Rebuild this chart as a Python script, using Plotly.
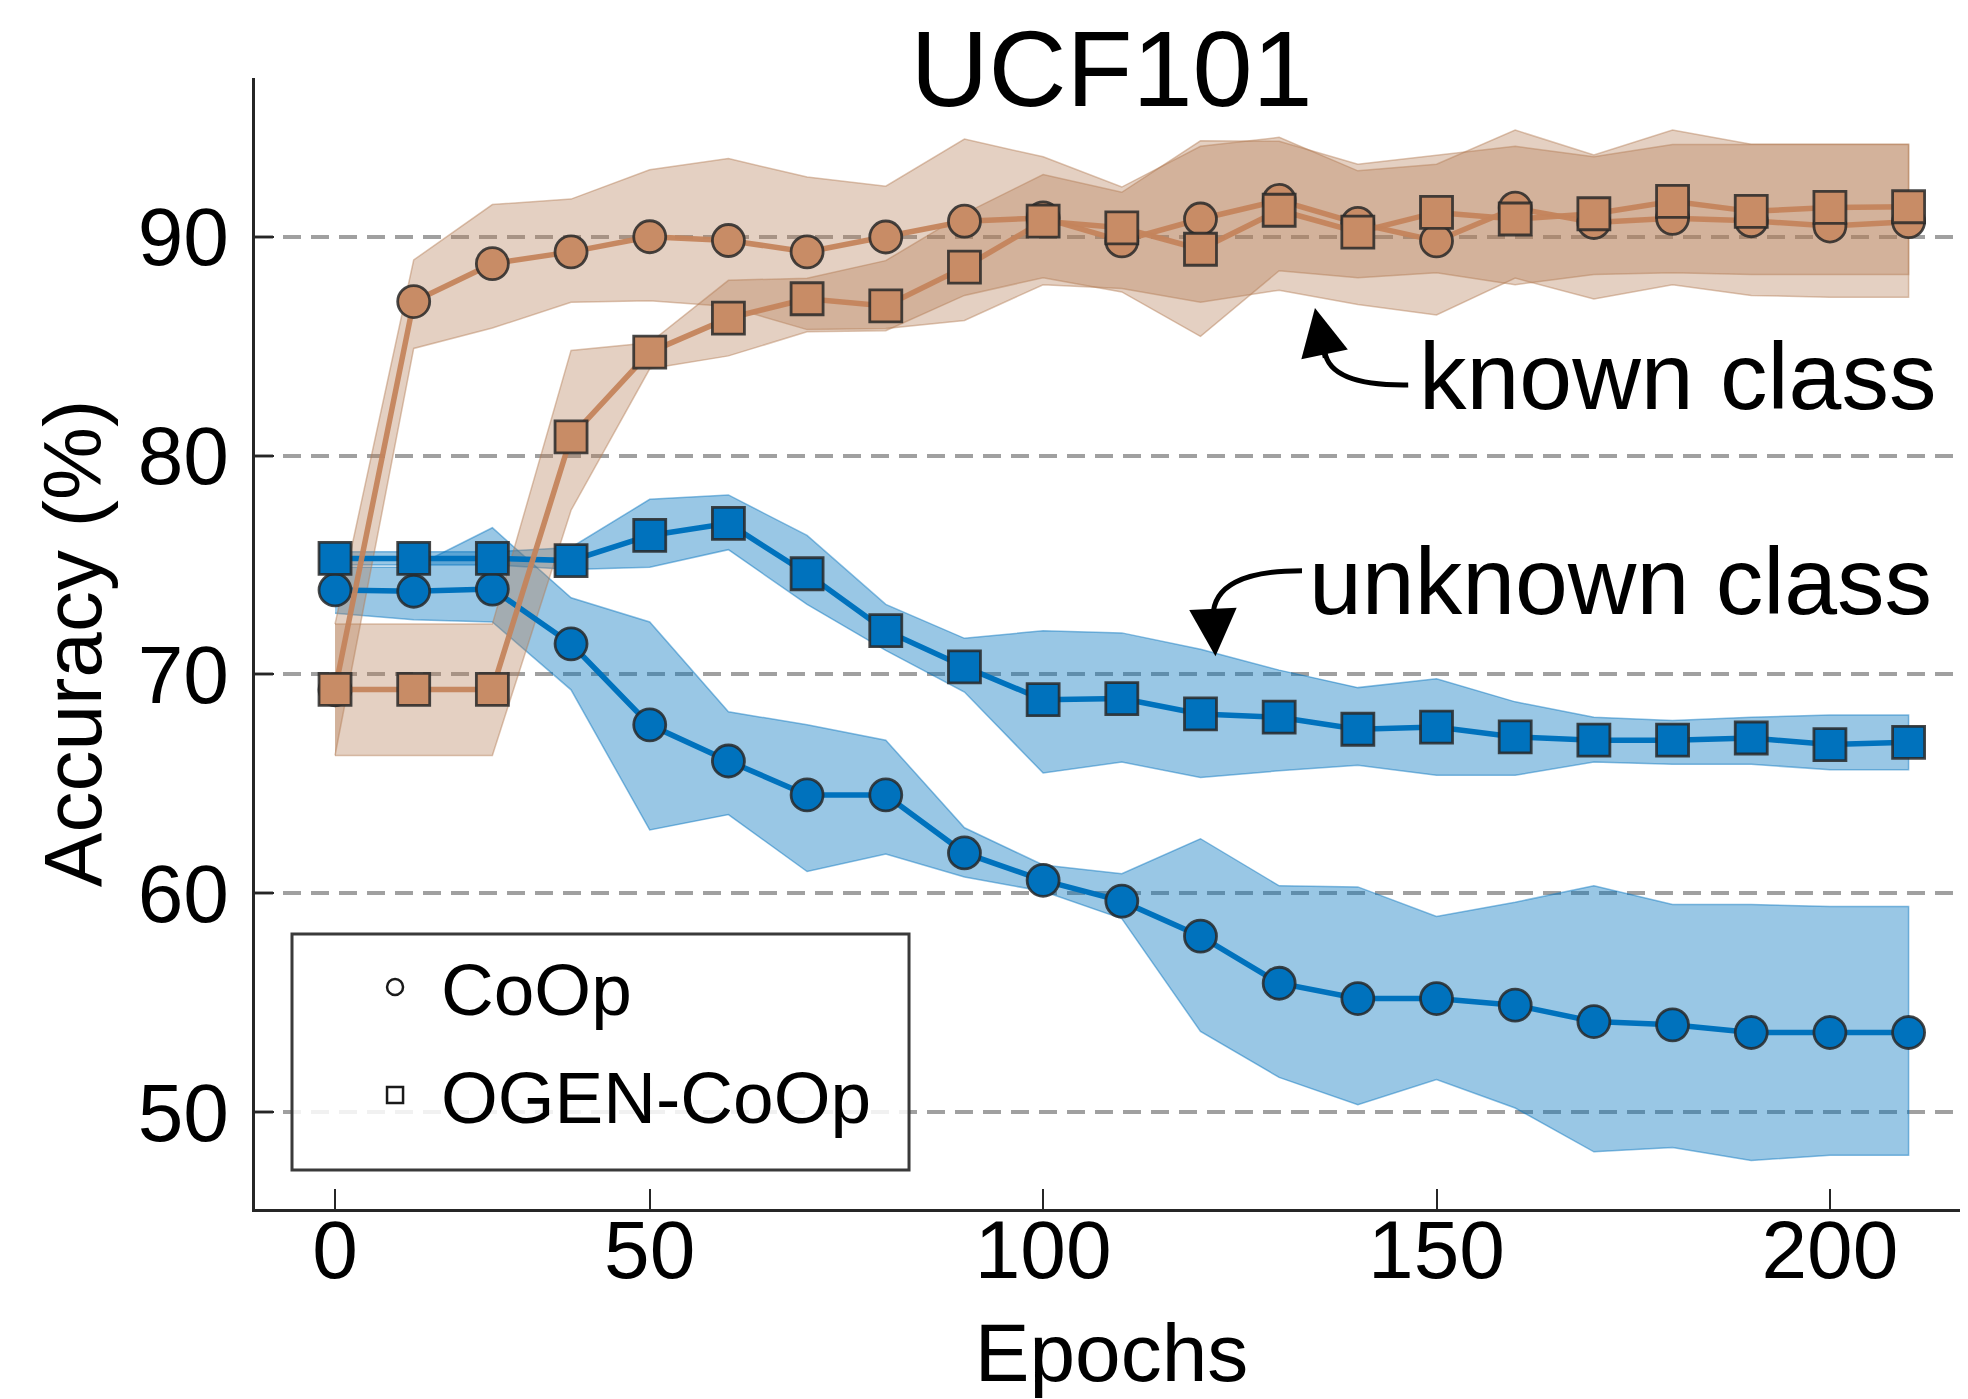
import plotly.graph_objects as go

# ---------------- data ----------------
epochs = [0, 12.5, 25, 37.5, 50, 60, 70, 80, 90, 100, 110, 120, 130, 140, 150, 160, 170, 180, 190, 200, 210]
tick_epochs = [0, 50, 100, 150, 200]

coop_unknown = [73.86, 73.8, 73.9, 71.4, 67.7, 66.05, 64.5, 64.5, 61.85, 60.6, 59.65, 58.05, 55.9, 55.2, 55.2,
                54.9, 54.15, 54.0, 53.65, 53.65, 53.65]
coop_unknown_hi = [74.9, 74.9, 76.7, 73.5, 72.4, 68.3, 67.7, 67.0, 63.0, 61.3, 60.9, 62.5, 60.35, 60.3, 58.95,
                   59.6, 60.35, 59.5, 59.5, 59.4, 59.4]
coop_unknown_lo = [72.8, 72.5, 72.4, 69.3, 62.9, 63.6, 61.0, 61.8, 60.75, 60.1, 58.85, 53.7, 51.6, 50.35, 51.5,
                   50.2, 48.2, 48.4, 47.8, 48.05, 48.05]

ogen_unknown = [75.3, 75.3, 75.3, 75.2, 76.35, 76.9, 74.6, 72.0, 70.35, 68.85, 68.9, 68.2, 68.05, 67.5, 67.6,
                67.15, 67.0, 67.0, 67.1, 66.8, 66.9]
ogen_unknown_hi = [75.6, 75.6, 75.6, 75.8, 78.0, 78.2, 76.35, 73.2, 71.65, 72.0, 71.9, 71.15, 70.2, 69.4, 69.8,
                   68.75, 68.05, 67.9, 68.05, 68.15, 68.15]
ogen_unknown_lo = [75.0, 75.0, 75.0, 74.8, 74.9, 75.7, 73.2, 71.1, 69.2, 65.5, 66.0, 65.3, 65.6, 65.85, 65.4,
                   65.4, 66.0, 65.9, 65.9, 65.65, 65.65]

coop_known = [69.3, 87.03, 88.76, 89.3, 89.99, 89.82, 89.3, 89.98, 90.7, 90.85, 89.8, 90.8, 91.65, 90.6, 89.8,
              91.3, 90.64, 90.83, 90.72, 90.48, 90.68]
coop_known_hi = [72.3, 88.93, 91.46, 91.71, 93.05, 93.56, 92.72, 92.3, 94.45, 93.64, 92.26, 94.12, 94.53, 93.0,
                 93.3, 94.86, 93.72, 94.86, 94.21, 94.21, 94.21]
coop_known_lo = [66.3, 84.89, 85.82, 87.0, 87.07, 86.8, 85.75, 85.8, 86.17, 87.8, 87.63, 87.0, 87.55, 86.9, 86.42,
                 88.1, 87.15, 87.8, 87.31, 87.23, 87.23]

ogen_known = [69.32, 69.32, 69.32, 80.85, 84.72, 86.27, 87.16, 86.83, 88.6, 90.7, 90.4, 89.42, 91.2, 90.2, 91.1,
              90.8, 91.04, 91.61, 91.15, 91.33, 91.36]
ogen_known_hi = [72.3, 72.3, 72.3, 84.8, 85.15, 88.0, 88.1, 88.9, 91.05, 92.83, 92.02, 94.37, 94.35, 93.3, 93.72,
                 94.12, 93.64, 94.2, 94.2, 94.2, 94.2]
ogen_known_lo = [66.3, 66.3, 66.3, 77.5, 83.96, 84.55, 85.65, 85.7, 87.31, 88.12, 87.47, 85.44, 88.44, 88.12,
                 88.35, 87.8, 88.27, 88.35, 88.27, 88.27, 88.27]

title_text = "UCF101"
x_title = "Epochs"
y_title = "Accuracy (%)"
legend_names = ["CoOp", "OGEN-CoOp"]

# ---------------- styling ----------------
FONT = "Liberation Sans, Arial, Helvetica, sans-serif"
BLUE = "rgb(0,114,189)"
BLUE_FILL = "rgba(0,114,189,0.40)"
BLUE_EDGE = "rgba(0,114,189,0.45)"
BROWN_LINE = "rgba(196,132,92,0.95)"
BROWN_MARK = "rgb(200,140,102)"
BROWN_FILL = "rgba(180,125,85,0.36)"
BROWN_EDGE = "rgba(180,125,85,0.45)"
EDGE = "rgba(40,40,40,0.85)"
AX = "#262626"

x_pos = list(range(len(epochs)))
tickvals = [epochs.index(e) for e in tick_epochs]
ticktext = [str(e) for e in tick_epochs]

fig = go.Figure()


def band(hi, lo, fill, edge):
    fig.add_trace(go.Scatter(
        x=x_pos + x_pos[::-1], y=hi + lo[::-1], fill="toself", fillcolor=fill,
        mode="lines", line=dict(color=edge, width=1.5), hoverinfo="skip", showlegend=False))


def series(y, symbol, line_color, fill_color, name):
    fig.add_trace(go.Scatter(
        x=x_pos, y=y, mode="lines+markers", name=name, showlegend=False,
        line=dict(color=line_color, width=5.5),
        marker=dict(symbol=symbol, size=32, color=fill_color, line=dict(color=EDGE, width=2.8))))


band(coop_unknown_hi, coop_unknown_lo, BLUE_FILL, BLUE_EDGE)
band(ogen_unknown_hi, ogen_unknown_lo, BLUE_FILL, BLUE_EDGE)
band(coop_known_hi, coop_known_lo, BROWN_FILL, BROWN_EDGE)
band(ogen_known_hi, ogen_known_lo, BROWN_FILL, BROWN_EDGE)

series(coop_unknown, "circle", BLUE, BLUE, "CoOp unknown")
series(ogen_unknown, "square", BLUE, BLUE, "OGEN-CoOp unknown")
series(coop_known, "circle", BROWN_LINE, BROWN_MARK, "CoOp known")
series(ogen_known, "square", BROWN_LINE, BROWN_MARK, "OGEN-CoOp known")

# legend entries (open symbols)
for nm, sym, grp in [(legend_names[0], "circle-open", "a"), (legend_names[1], "square-open", "b")]:
    fig.add_trace(go.Scatter(
        x=[None], y=[None], mode="markers", name=nm, legendgroup=grp,
        marker=dict(symbol=sym, size=16, color="#1a1a1a", line=dict(width=2.5))))

# legend frame
fig.add_shape(type="rect", xref="paper", yref="paper", x0=0.0216, x1=0.3818, y0=0.0345, y1=0.2431,
              fillcolor="rgba(255,255,255,0.85)", line=dict(color="#3a3a3a", width=3), layer="above")

# curved annotation arrows
fig.add_shape(type="path", xref="x", yref="y", path="M 13.64,83.22 Q 12.646,83.17 12.58,84.74",
              line=dict(color="black", width=5))
fig.add_shape(type="path", xref="x", yref="y", path="M 12.29,74.74 Q 11.159,74.74 11.16,72.63",
              line=dict(color="black", width=5))
fig.add_annotation(x=12.455, y=86.74, ax=12.59, ay=84.4, xref="x", yref="y", axref="x", ayref="y",
                   text="", showarrow=True, arrowhead=2, arrowsize=1.9, arrowwidth=5, arrowcolor="black")
fig.add_annotation(x=11.19, y=70.83, ax=11.16, ay=72.9, xref="x", yref="y", axref="x", ayref="y",
                   text="", showarrow=True, arrowhead=2, arrowsize=1.9, arrowwidth=5, arrowcolor="black")

fig.add_annotation(x=13.75, y=83.65, xref="x", yref="y", text="known class", showarrow=False,
                   xanchor="left", yanchor="middle", font=dict(family=FONT, size=95, color="black"))
fig.add_annotation(x=12.36, y=74.25, xref="x", yref="y", text="unknown class", showarrow=False,
                   xanchor="left", yanchor="middle", font=dict(family=FONT, size=95, color="black"))

# the page places the figure 8px in from the top-left corner; margins compensate for it
fig.update_layout(
    width=1968, height=1399,
    margin=dict(l=247, r=8, t=70, b=198, autoexpand=False),
    paper_bgcolor="white", plot_bgcolor="white",
    font=dict(family=FONT, color="black"),
    title=dict(text=title_text, x=0.5, xref="paper", xanchor="center", y=0.9572, yref="container",
               yanchor="middle", font=dict(family=FONT, size=108, color="black")),
    showlegend=True,
    legend=dict(x=0.0549, y=0.2440, xanchor="left", yanchor="top", xref="paper", yref="paper",
                font=dict(family=FONT, size=73, color="black"), bgcolor="rgba(0,0,0,0)",
                borderwidth=0, itemwidth=82, tracegroupgap=10, traceorder="grouped"),
    xaxis=dict(range=[-1.017, 20.755], tickmode="array", tickvals=tickvals, ticktext=ticktext,
               automargin=False,
               ticks="inside", ticklen=20, tickwidth=2, tickcolor=AX,
               showline=True, linecolor=AX, linewidth=2.5, showgrid=False, zeroline=False,
               tickfont=dict(family=FONT, size=82, color="black"), ticklabelstandoff=-32,
               title=dict(text=x_title, font=dict(family=FONT, size=82, color="black"), standoff=30)),
    yaxis=dict(range=[45.59, 97.24], tickmode="array", tickvals=[50, 60, 70, 80, 90],
               automargin=False,
               ticks="inside", ticklen=19, tickwidth=2, tickcolor=AX,
               showline=True, linecolor=AX, linewidth=2.5, zeroline=False,
               showgrid=True, gridcolor="#A0A0A0", gridwidth=3.5, griddash="18px,10px",
               tickfont=dict(family=FONT, size=82, color="black"), ticklabelstandoff=7,
               title=dict(text=y_title, font=dict(family=FONT, size=82, color="black"), standoff=9)),
)

fig.write_html("out.html")
